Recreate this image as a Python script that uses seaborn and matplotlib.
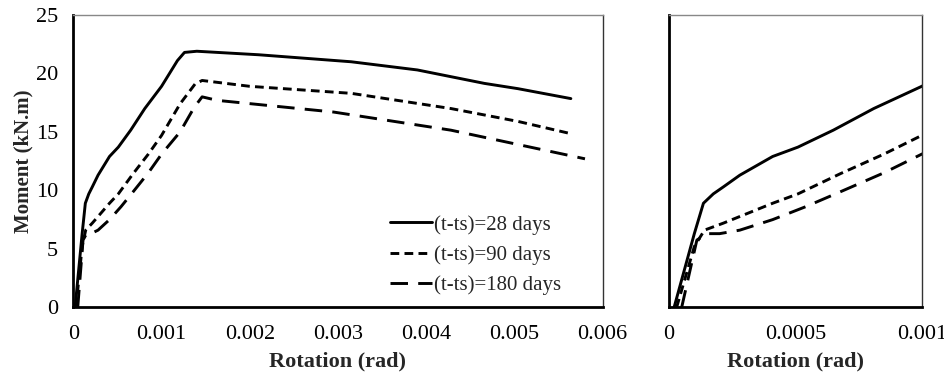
import numpy as np
import pandas as pd
import seaborn as sns
import matplotlib
matplotlib.use('Agg')
import matplotlib.pyplot as plt
from matplotlib.ticker import FuncFormatter

# DATA
rot_28 = [0.00002, 0.0001, 0.000136, 0.000175, 0.000215, 0.00028, 0.00041, 0.00051, 0.00065, 0.00081,
          0.001, 0.00118, 0.00126, 0.0014, 0.0021, 0.00315, 0.0039, 0.00466, 0.00504, 0.00564]
mom_28 = [0, 6.3, 8.9, 9.7, 10.3, 11.3, 12.9, 13.7, 15.15, 17.0,
          18.9, 21.1, 21.8, 21.9, 21.6, 21.0, 20.3, 19.15, 18.7, 17.85]

rot_90 = [0.00003, 0.0001, 0.00014, 0.000215, 0.00041, 0.00051, 0.00068, 0.00085, 0.001,
          0.00121, 0.00138, 0.00146, 0.002, 0.00315, 0.00428, 0.00504, 0.00564]
mom_90 = [0, 5.2, 6.6, 7.2, 8.9, 9.7, 11.45, 13.1, 14.7,
          17.4, 19.1, 19.4, 18.9, 18.3, 17.0, 15.9, 14.85]

rot_180 = [0.00005, 0.00011, 0.00015, 0.0002, 0.00028, 0.00041, 0.00054, 0.00068, 0.00085, 0.001,
           0.00121, 0.00137, 0.00146, 0.00163, 0.00295, 0.00428, 0.0058]
mom_180 = [0, 5.75, 6.3, 6.3, 6.6, 7.5, 8.6, 9.9, 11.5, 13.1,
           15.0, 17.1, 18.0, 17.7, 16.7, 15.15, 12.7]

labels = ['(t-ts)=28 days', '(t-ts)=90 days', '(t-ts)=180 days']

df = pd.concat([
    pd.DataFrame({'rot': rot_28, 'mom': mom_28, 'case': labels[0]}),
    pd.DataFrame({'rot': rot_90, 'mom': mom_90, 'case': labels[1]}),
    pd.DataFrame({'rot': rot_180, 'mom': mom_180, 'case': labels[2]}),
])

sns.set_style('white')
plt.rcParams['font.family'] = ['Liberation Serif', 'DejaVu Serif']
plt.rcParams['font.size'] = 16

dash_map = {labels[0]: '', labels[1]: (3, 1.8), labels[2]: (6, 3.5)}

fig = plt.figure(figsize=(9.45, 3.74), dpi=100)
ax1 = fig.add_axes([0.0776, 0.1783, 0.5601, 0.7816])
ax2 = fig.add_axes([0.708, 0.1783, 0.2674, 0.7816])

for ax in (ax1, ax2):
    sns.lineplot(data=df, x='rot', y='mom', style='case', dashes=dash_map, color='black',
                 linewidth=2.1, estimator=None, sort=False, ax=ax, legend=(ax is ax1))
    ax.set_ylim(0, 25)
    ax.set_yticks([0, 5, 10, 15, 20, 25])
    ax.tick_params(direction='in', length=5, width=1, colors='black', labelsize=16)
    ax.tick_params(axis='y', pad=11)
    ax.tick_params(axis='x', pad=13)
    ax.spines['left'].set_linewidth(2)
    ax.spines['bottom'].set_linewidth(2)
    ax.spines['top'].set_color('#888888')
    ax.spines['top'].set_linewidth(1)
    ax.spines['right'].set_color('#333333')
    ax.spines['right'].set_linewidth(1)
    for s in ('left', 'bottom'):
        ax.spines[s].set_color('black')
    ax.xaxis.set_major_formatter(FuncFormatter(lambda v, p: '%g' % round(v, 6)))
    ax.set_xlabel('Rotation (rad)', fontweight='bold', fontsize=16, labelpad=5)

ax1.set_xlim(0, 0.006)
ax1.set_xticks([0, 0.001, 0.002, 0.003, 0.004, 0.005, 0.006])
ax1.set_ylabel('Moment (kN.m)', fontweight='bold', fontsize=15, labelpad=2)
ax1.legend(loc='center left', bbox_to_anchor=(0.598, 0.179), frameon=False, fontsize=15,
           handlelength=2.0, handletextpad=0.1, labelspacing=0.5, borderpad=0, borderaxespad=0)

ax2.set_xlim(0, 0.001)
ax2.set_xticks([0, 0.0005, 0.001])
ax2.set_yticklabels([])
ax2.set_ylabel('')

fig.savefig('out.png', dpi=100)
